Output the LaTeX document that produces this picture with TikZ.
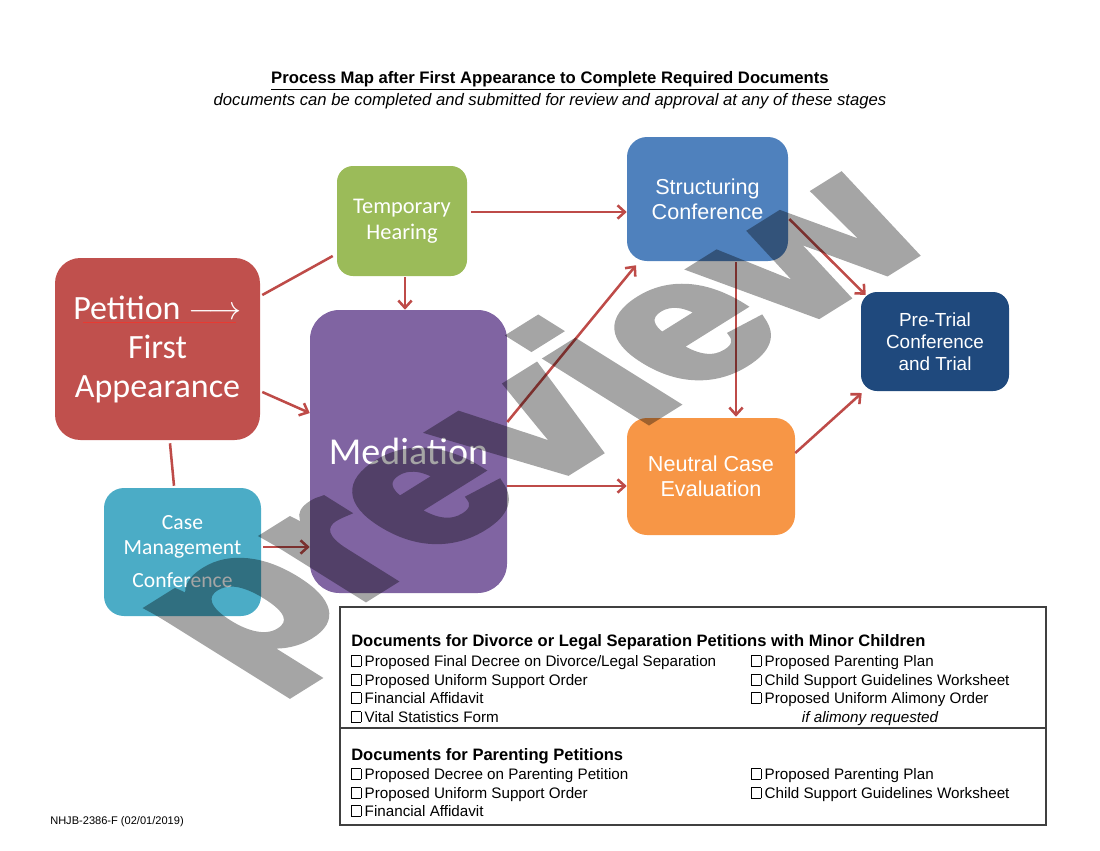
\documentclass[tikz,border=0pt]{standalone}
\usepackage{fontspec}
\setmainfont{Liberation Sans}
\newfontfamily\calibri{Carlito}
\usetikzlibrary{calc,arrows.meta}
\definecolor{cRed}{HTML}{C0504D}
\definecolor{cGreen}{HTML}{9BBB59}
\definecolor{cPurple}{HTML}{8064A2}
\definecolor{cTeal}{HTML}{4BACC6}
\definecolor{cBlue}{HTML}{4F81BD}
\definecolor{cOrange}{HTML}{F79646}
\definecolor{cNavy}{HTML}{1F497D}
\definecolor{cLine}{HTML}{BE4B48}
\definecolor{cUnder}{HTML}{E83A32}
\definecolor{wmGray}{HTML}{A5A5A5}
\definecolor{frameGray}{HTML}{404040}
\newcommand\ckbx{{\setlength\fboxsep{0pt}\setlength\fboxrule{0.45pt}\fbox{\rule{0pt}{7.6pt}\hspace{6.6pt}}}\hspace{2.6pt}}
\tikzset{
  box/.style={draw=none, inner sep=0pt, align=center, text=white},
  conn/.style={draw=cLine, line width=1.9pt},
  arr/.style={conn, -{Straight Barb[length=5.5pt,width=10pt]}},
  doctext/.style={anchor=base west, inner sep=0pt, font=\fontsize{11.4}{13}\selectfont},
  dochead/.style={anchor=base west, inner sep=0pt, font=\fontsize{12.4}{14}\selectfont\bfseries},
}
\begin{document}
\begin{tikzpicture}[x=0.75pt,y=-0.75pt]
\useasboundingbox (0,0) rectangle (1100,850);
% title
\node[inner sep=0pt, font=\fontsize{12.5}{14}\selectfont\bfseries] (title) at (550,81) {\underline{Process Map after First Appearance to Complete Required Documents}};
\node[inner sep=0pt, font=\fontsize{12.5}{14}\selectfont\itshape] (subtitle) at (550,101) {documents can be completed and submitted for review and approval at any of these stages};
% boxes
\node[box, fill=cRed, minimum width=205*0.75pt, minimum height=182*0.75pt, rounded corners=19pt,
      font=\calibri\fontsize{25.5}{29.25}\selectfont] (pet) at (157.5,349) {Petition $\longrightarrow$\\First\\Appearance};
\node[box, fill=cGreen, minimum width=130*0.75pt, minimum height=110*0.75pt, rounded corners=12pt,
      font=\calibri\fontsize{16.8}{19.5}\selectfont] (temp) at (402,221) {\rule{0pt}{4pt}Temporary\\Hearing};
\node[box, fill=cPurple, minimum width=197*0.75pt, minimum height=283*0.75pt, rounded corners=22pt,
      font=\calibri\fontsize{28.5}{32}\selectfont] (med) at (408.5,451.5) {Mediation};
\node[box, fill=cTeal, minimum width=157*0.75pt, minimum height=128*0.75pt, rounded corners=15pt,
      font=\calibri\fontsize{16.2}{18.75}\selectfont] (case) at (182.5,552) {Case\\Management\\[6pt]Conference};
\node[box, fill=cBlue, minimum width=161*0.75pt, minimum height=124*0.75pt, rounded corners=15pt,
      font=\fontsize{16.2}{18.75}\selectfont] (str) at (707.5,199) {Structuring\\Conference};
\node[box, fill=cOrange, minimum width=168*0.75pt, minimum height=117*0.75pt, rounded corners=15pt,
      font=\fontsize{16.2}{18.75}\selectfont] (neu) at (711,476.5) {Neutral Case\\Evaluation};
\node[box, fill=cNavy, minimum width=148*0.75pt, minimum height=99*0.75pt, rounded corners=12pt,
      font=\fontsize{14.2}{16.5}\selectfont] (pre) at (935,341.5) {Pre-Trial\\Conference\\and Trial};
% underline in petition box
\draw[cUnder, line width=0.6pt] ($(pet.center)+(-74.5,-27)$) -- ($(pet.center)+(78.5,-27)$);
% connectors
\draw[conn] ($(pet.east)+(2,-54)$) -- ($(temp.west)+(-4,35)$);
\draw[arr] ($(pet.east)+(2,43)$) -- ($(med.west)+(0,-38.5)$);
\draw[arr] ($(temp.south)+(3,1)$) -- ($(med.north)+(-3.5,0)$);
\draw[arr] ($(temp.east)+(4,-9)$) -- ($(str.west)+(0,13)$);
\draw[conn] ($(pet.south)+(12.5,3)$) -- ($(case.north)+(-8.5,-2)$);
\draw[arr] ($(case.east)+(2,-5)$) -- ($(med.west)+(0,95.5)$);
\draw[arr] ($(med.east)+(0,-29.5)$) -- ($(str.south)+(-71.5,4)$);
\draw[arr] ($(med.east)+(0,34.5)$) -- ($(neu.west)+(0,9.5)$);
\draw[arr] ($(str.south)+(28.5,1)$) -- ($(neu.north)+(25,-1)$);
\draw[arr] ($(str.east)+(1,20)$) -- ($(pre.west)+(5,-46.5)$);
\draw[arr] ($(neu.east)+(0,-23.5)$) -- ($(pre.west)+(1,51.5)$);
% documents box
\draw[frameGray, line width=1pt] (340,607) rectangle (1046,825);
\draw[frameGray, line width=1pt] (340,728) -- (1046,728);
\node[dochead] (h1) at (351,646) {Documents for Divorce or Legal Separation Petitions with Minor Children};
\node[doctext] (a1) at (351,666) {\ckbx Proposed Final Decree on Divorce/Legal Separation};
\node[doctext] (a2) at (351,685) {\ckbx Proposed Uniform Support Order};
\node[doctext] (a3) at (351,703) {\ckbx Financial Affidavit};
\node[doctext] (a4) at (351,722) {\ckbx Vital Statistics Form};
\node[doctext] (b1) at (751,666) {\ckbx Proposed Parenting Plan};
\node[doctext] (b2) at (751,685) {\ckbx Child Support Guidelines Worksheet};
\node[doctext] (b3) at (751,703) {\ckbx Proposed Uniform Alimony Order};
\node[doctext, anchor=base, font=\fontsize{11.4}{13}\selectfont\itshape] (b4) at (870,722) {if alimony requested};
\node[dochead] (h2) at (351,760) {Documents for Parenting Petitions};
\node[doctext] (c1) at (351,779) {\ckbx Proposed Decree on Parenting Petition};
\node[doctext] (c2) at (351,798) {\ckbx Proposed Uniform Support Order};
\node[doctext] (c3) at (351,816) {\ckbx Financial Affidavit};
\node[doctext] (d1) at (751,779) {\ckbx Proposed Parenting Plan};
\node[doctext] (d2) at (751,798) {\ckbx Child Support Guidelines Worksheet};
% footer
\node[anchor=base west, inner sep=0pt, font=\fontsize{8.3}{10}\selectfont] (foot) at (50,824) {NHJB-2386-F (02/01/2019)};
% watermark
\begin{scope}[blend mode=multiply]
\begin{scope}[transparency group]
\begin{scope}[shift={(540,428)}, xscale=1.6, rotate=45]
\node[transform shape, anchor=center, inner sep=0pt, text=wmGray, font=\fontsize{125}{125}\selectfont\bfseries] (wm) at (0,0) {\special{pdf:literal direct 2 Tr 5 w 0.647 0.647 0.647 RG}preview\special{pdf:literal direct 0 Tr 1 w}};
\end{scope}
\end{scope}
\end{scope}
\end{tikzpicture}
\end{document}
